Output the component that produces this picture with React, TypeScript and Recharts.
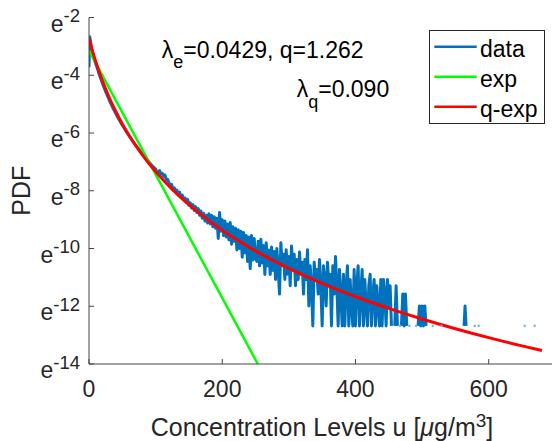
import React from 'react';
import { ComposedChart, Line, Scatter, XAxis, YAxis } from 'recharts';

const FONT = '"Liberation Sans", Arial, Helvetica, sans-serif';
const INK = '#262626';

// axes
const xTicks = [0, 200, 400, 600];
const yTicks = [-14, -12, -10, -8, -6, -4, -2]; // natural-log values, labelled e^n
const xDomain: [number, number] = [0, 695];
const yDomain: [number, number] = [-14, -2];

// empirical PDF (ln values), null = empty bin
const dataU = [
  0, 1, 2, 4, 6, 8, 10, 12, 15, 20, 25, 30, 35, 40, 45, 50, 55, 60, 65, 70, 75, 80, 85, 90, 95,
  100, 102, 104, 106, 108, 110, 112, 114, 116, 118,
  120, 122, 124, 126, 128, 130, 132, 134, 136, 138,
  140, 142, 144, 146, 148, 150, 152, 154, 156, 158,
  160, 162, 164, 166, 168, 170, 172, 174, 176, 178,
  180, 182, 184, 186, 188, 190, 192, 194, 196, 198,
  200, 202, 204, 206, 208, 210, 212, 214, 216, 218,
  220, 222, 224, 226, 228, 230, 232, 234, 236, 238,
  240, 242, 244, 246, 248, 250, 252, 254, 256, 258,
  260, 262, 264, 266, 268, 270, 272, 274, 276, 278,
  280, 282, 284, 286, 288, 290, 292, 294, 296, 298,
  300, 302, 304, 306, 308, 310, 312, 314, 316, 318,
  320, 322, 324, 326, 328, 330, 332, 334, 336, 338,
  340, 342, 344, 346, 348, 350, 352, 354, 356, 358,
  360, 362, 364, 366, 368, 370, 372, 374, 376, 378,
  380, 382, 384, 386, 388, 390, 392, 394, 396, 398,
  400, 402, 404, 406, 408, 410, 412, 414, 416, 418,
  420, 422, 424, 426, 428, 430, 432, 434, 436, 438,
  440, 442, 444, 446, 448, 450, 452, 454,
  456, 459, 461, 463, 465, 469, 471, 473, 475, 477, 479,
  494, 496, 498, 500, 502, 504, 506, 508, 563, 564.5, 566,
];
const dataLn: (number | null)[] = [
  -3.72, -2.67, -2.78, -3.1, -3.29, -3.45, -3.6, -3.72, -3.95, -4.27, -4.57, -4.84, -5.09, -5.32, -5.53, -5.73, -5.91, -6.09, -6.26, -6.42, -6.57, -6.72, -6.86, -7.0, -7.14,
  -7.25, -7.38, -7.35, -7.3, -7.42, -7.4, -7.5, -7.45, -7.62, -7.6,
  -7.72, -7.8, -7.78, -7.95, -7.9, -8.02, -7.98, -8.12, -8.05, -8.22,
  -8.15, -8.3, -8.25, -8.4, -8.3, -8.5, -8.42, -8.6, -8.48, -8.68,
  -8.55, -8.75, -8.62, -8.85, -8.7, -8.95, -8.78, -9.05, -8.85, -9.12,
  -8.8, -9.15, -8.85, -9.25, -8.9, -9.3, -8.95, -9.65, -8.75, -9.4,
  -9.0, -9.55, -9.05, -9.6, -9.15, -9.7, -9.1, -9.85, -9.25, -9.75,
  -9.3, -10.05, -9.35, -10.0, -9.4, -10.3, -9.45, -10.15, -9.55, -10.45,
  -9.6, -10.7, -9.55, -10.4, -9.65, -10.35, -10.45, -9.75, -10.6, -9.68,
  -10.5, -9.9, -10.9, -9.8, -10.6, -10.05, -10.9, -9.95, -10.75, -10.1,
  -11.07, -10.0, -10.73, -11.58, -9.8, -10.6, -10.2, -11.07, -10.04, -10.89,
  -10.28, -11.29, -9.91, -10.73, -10.2, -11.29, -10.38, -11.07, -10.12, -10.89,
  -10.48, -11.58, -10.38, -11.07, -10.04, -11.99, -10.6, -11.29, -12.68, -10.48,
  -11.07, -10.73, -11.58, -10.38, -11.29, -12.68, -10.6, -11.07, -11.99, -10.48,
  -11.29, -10.89, -12.68, -10.6, -11.58, -10.28, -11.29, -12.68, -10.73, -11.58,
  -12.68, -10.89, -12.68, -11.29, -10.6, -12.68, -11.07, -11.99, -12.68, -10.73,
  -12.68, -11.29, -10.6, -12.68, -11.58, -10.73, -12.68, -11.07, -11.99, -12.68,
  -11.29, -10.89, -12.68, -11.58, -11.07, -12.68, -11.29, -11.99, -12.68, -11.07,
  -12.68, -11.07, -11.58, -12.68, -11.07, -11.99, -11.29, -12.68,
  null, -12.68, -11.29, -12.68, null, -12.68, -11.58, -12.68, -11.58, -12.68, null,
  -12.68, -11.99, -12.68, -11.99, -12.68, -11.99, -12.68, null, -12.68, -11.99, -12.68,
];

// isolated single-count bins
const isolatedU = [467, 481, 491, 516, 529, 579, 585, 654, 669];
const isolatedLn = [-12.68, -12.68, -12.68, -12.68, -12.68, -12.68, -12.68, -12.68, -12.68];

// exponential fit (straight in ln scale)
const expU = [0, 253.4];
const expLn = [-3.149, -14.0];

// q-exponential fit
const qexpU = [0, 2.5, 5, 10, 15, 20, 30, 40, 50, 60, 80, 100, 125, 150, 200, 250, 300, 350, 400, 450, 500, 550, 600, 650, 680];
const qexpLn = [-2.712, -2.931, -3.138, -3.52, -3.868, -4.187, -4.754, -5.248, -5.685, -6.077, -6.758, -7.336, -7.953, -8.484, -9.366, -10.082, -10.685, -11.205, -11.663, -12.071, -12.44, -12.777, -13.086, -13.372, -13.534];

const seriesNames = ['data', 'exp', 'q-exp'];
const seriesColors = ['#0072BD', '#00FF00', '#FF0000'];

const dataRows = dataU.map((u, i) => ({ u, v: dataLn[i] }));
const isolatedRows = isolatedU.map((u, i) => ({ u, v: isolatedLn[i] }));
const expRows = expU.map((u, i) => ({ u, v: expLn[i] }));
const qexpRows = qexpU.map((u, i) => ({ u, v: qexpLn[i] }));

const YTick = (props: any) => {
  const { x, y, payload } = props;
  return (
    <text x={x - 14} y={y + 14} textAnchor="end" fontFamily={FONT} fontSize={23} fill={INK}>
      e<tspan fontSize={18.5} dy={-9.5}>{String(payload.value)}</tspan>
    </text>
  );
};

const XTick = (props: any) => {
  const { x, y, payload } = props;
  return (
    <text x={x} y={y + 37.7} textAnchor="middle" fontFamily={FONT} fontSize={23} fill={INK}>
      {String(payload.value)}
    </text>
  );
};

const IsoDot = (props: any) => {
  const { cx, cy } = props;
  if (cx == null || cy == null) return null;
  return <rect x={cx - 1} y={cy - 1.2} width={2} height={2.4} fill="#7aaedb" />;
};

export default function App() {
  return (
    <div style={{ position: 'absolute', left: 0, top: 0, width: 553, height: 441, background: '#fff' }}>
      <ComposedChart width={553} height={441} margin={{ top: 17.5, right: 1, bottom: 0, left: 0 }}>
        <XAxis
          dataKey="u"
          type="number"
          domain={xDomain}
          ticks={xTicks}
          interval={0}
          height={77}
          allowDataOverflow
          tickSize={-5}
          tickMargin={0}
          tick={<XTick />}
          stroke="#444"
        />
        <XAxis
          xAxisId="t"
          orientation="top"
          type="number"
          domain={xDomain}
          ticks={xTicks}
          interval={0}
          height={0}
          allowDataOverflow
          tickSize={-5}
          tick={false}
          stroke="#444"
        />
        <YAxis
          dataKey="v"
          type="number"
          domain={yDomain}
          ticks={yTicks}
          interval={0}
          width={89}
          allowDataOverflow
          tickSize={-5}
          tickMargin={0}
          tick={<YTick />}
          stroke="#444"
        />
        <YAxis
          yAxisId="r"
          orientation="right"
          type="number"
          domain={yDomain}
          ticks={yTicks}
          interval={0}
          width={0}
          allowDataOverflow
          tickSize={-5}
          tick={false}
          stroke="#444"
        />
        <Line
          data={dataRows}
          dataKey="v"
          name={seriesNames[0]}
          type="linear"
          stroke={seriesColors[0]}
          strokeWidth={3}
          strokeLinejoin="round"
          dot={false}
          activeDot={false}
          connectNulls={false}
          isAnimationActive={false}
        />
        <Scatter data={isolatedRows} dataKey="v" shape={<IsoDot />} isAnimationActive={false} />
        <Line
          data={expRows}
          dataKey="v"
          name={seriesNames[1]}
          type="linear"
          stroke={seriesColors[1]}
          strokeWidth={2.5}
          dot={false}
          activeDot={false}
          isAnimationActive={false}
        />
        <Line
          data={qexpRows}
          dataKey="v"
          name={seriesNames[2]}
          type="monotone"
          stroke={seriesColors[2]}
          strokeWidth={3}
          dot={false}
          activeDot={false}
          isAnimationActive={false}
        />
      </ComposedChart>
      <svg
        width={553}
        height={441}
        style={{ position: 'absolute', left: 0, top: 0, pointerEvents: 'none' }}
        fontFamily={FONT}
      >
        <text x={161.7} y={58.3} fontSize={23} fill="#000">
          λ<tspan fontSize={18} dy={10}>e</tspan>
          <tspan dy={-10}>=0.0429, q=1.262</tspan>
        </text>
        <text x={296.7} y={96.7} fontSize={23} fill="#000">
          λ<tspan fontSize={18} dy={11}>q</tspan>
          <tspan dy={-11}>=0.090</tspan>
        </text>
        <text x={322} y={435.5} fontSize={25} fill={INK} textAnchor="middle">
          Concentration Levels u [<tspan fontStyle="italic">μ</tspan>g/m<tspan fontSize={19} dy={-9}>3</tspan>
          <tspan dy={9}>]</tspan>
        </text>
        <text x={-190.7} y={30} transform="rotate(-90)" fontSize={25} fill={INK} textAnchor="middle">
          PDF
        </text>
        <g transform="translate(429,30)">
          <rect x={0.5} y={0.5} width={115} height={93} fill="#fff" stroke={INK} strokeWidth={1} />
          {seriesNames.map((n, i) => (
            <g key={n}>
              <line x1={5.3} x2={47.7} y1={16.7 + 30 * i} y2={16.7 + 30 * i} stroke={seriesColors[i]} strokeWidth={2.5} />
              <text x={51} y={26.7 + 30 * i} fontSize={23} fill="#000">
                {n}
              </text>
            </g>
          ))}
        </g>
      </svg>
    </div>
  );
}
